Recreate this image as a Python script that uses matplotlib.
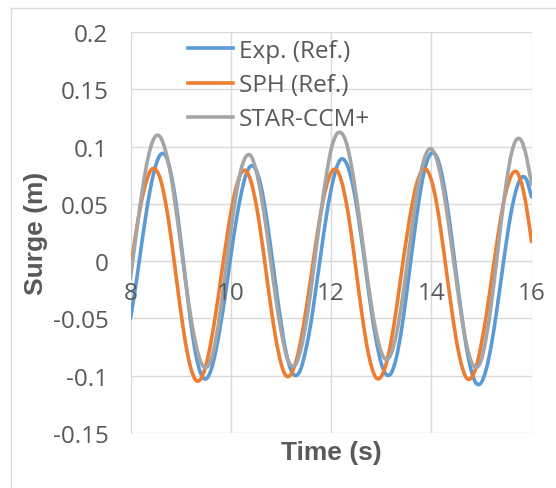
import matplotlib
matplotlib.use("Agg")
import matplotlib.pyplot as plt
from matplotlib.lines import Line2D
from matplotlib.path import Path
from matplotlib.patches import PathPatch
import numpy as np

# ---- data ----
time_s = [round(8.0 + 0.1 * i, 1) for i in range(81)]

exp_ref = [
    -0.050, -0.023, 0.008, 0.038, 0.064, 0.083, 0.093, 0.092, 0.078, 0.053,
    0.019, -0.017, -0.053, -0.081, -0.098, -0.103, -0.096, -0.079, -0.055, -0.027,
    0.004, 0.033, 0.057, 0.075, 0.083, 0.080, 0.066, 0.042, 0.011, -0.022,
    -0.053, -0.079, -0.095, -0.100, -0.094, -0.077, -0.054, -0.024, 0.007, 0.037,
    0.062, 0.080, 0.089, 0.086, 0.073, 0.051, 0.022, -0.010, -0.042, -0.069,
    -0.089, -0.099, -0.098, -0.085, -0.062, -0.031, 0.003, 0.036, 0.065, 0.085,
    0.094, 0.092, 0.078, 0.054, 0.023, -0.012, -0.045, -0.075, -0.096, -0.107,
    -0.106, -0.094, -0.073, -0.045, -0.014, 0.017, 0.044, 0.063, 0.073, 0.071,
    0.056,
]

sph_ref = [
    -0.007, 0.022, 0.048, 0.067, 0.079, 0.080, 0.071, 0.051, 0.023, -0.010,
    -0.043, -0.072, -0.093, -0.104, -0.103, -0.092, -0.072, -0.046, -0.016, 0.014,
    0.042, 0.063, 0.076, 0.079, 0.070, 0.051, 0.024, -0.008, -0.040, -0.068,
    -0.089, -0.100, -0.099, -0.088, -0.069, -0.043, -0.014, 0.016, 0.043, 0.064,
    0.077, 0.080, 0.071, 0.052, 0.025, -0.008, -0.041, -0.070, -0.091, -0.102,
    -0.101, -0.090, -0.070, -0.043, -0.012, 0.018, 0.045, 0.066, 0.078, 0.080,
    0.071, 0.052, 0.024, -0.008, -0.040, -0.069, -0.090, -0.102, -0.102, -0.092,
    -0.072, -0.047, -0.017, 0.013, 0.041, 0.062, 0.075, 0.078, 0.068, 0.047,
    0.017,
]

star_ccm = [
    -0.015, 0.019, 0.051, 0.079, 0.099, 0.109, 0.108, 0.096, 0.076, 0.047,
    0.015, -0.018, -0.048, -0.072, -0.088, -0.093, -0.087, -0.069, -0.041, -0.008,
    0.026, 0.056, 0.079, 0.091, 0.092, 0.080, 0.059, 0.031, -0.001, -0.033,
    -0.060, -0.081, -0.091, -0.090, -0.077, -0.055, -0.025, 0.009, 0.043, 0.073,
    0.097, 0.110, 0.112, 0.104, 0.085, 0.058, 0.027, -0.006, -0.037, -0.062,
    -0.079, -0.086, -0.081, -0.065, -0.040, -0.009, 0.024, 0.055, 0.079, 0.094,
    0.098, 0.090, 0.072, 0.046, 0.015, -0.017, -0.047, -0.072, -0.088, -0.093,
    -0.086, -0.066, -0.037, -0.001, 0.036, 0.069, 0.094, 0.106, 0.105, 0.091,
    0.067,
]

series_names = ["Exp. (Ref.)", "SPH (Ref.)", "STAR-CCM+"]
series_colors = ["#5B9BD5", "#ED7D31", "#A5A5A5"]

x_ticks = [8, 10, 12, 14, 16]
y_ticks = [-0.15, -0.1, -0.05, 0, 0.05, 0.1, 0.15, 0.2]
y_tick_labels = ["-0.15", "-0.1", "-0.05", "0", "0.05", "0.1", "0.15", "0.2"]


def smoothed_line_path(xs, ys):
    """Excel-style smoothed line: Catmull-Rom segments as cubic Beziers."""
    pts = np.column_stack([xs, ys]).astype(float)
    n = len(pts)
    verts = [pts[0]]
    codes = [Path.MOVETO]
    for i in range(n - 1):
        p0 = pts[i - 1] if i > 0 else pts[i]
        p1 = pts[i]
        p2 = pts[i + 1]
        p3 = pts[i + 2] if i + 2 < n else pts[i + 1]
        verts += [p1 + (p2 - p0) / 6.0, p2 - (p3 - p1) / 6.0, p2]
        codes += [Path.CURVE4] * 3
    return Path(verts, codes)


# ---- figure ----
fig = plt.figure(figsize=(5.56, 4.89), dpi=100)
fig.patch.set_facecolor("white")

# partial outer chart border (top and left)
border_c = "#D9D9D9"
fig.add_artist(Line2D([11 / 556, 1.0], [1 - 8.5 / 489, 1 - 8.5 / 489],
                      transform=fig.transFigure, color=border_c, lw=1.0))
fig.add_artist(Line2D([11 / 556, 11 / 556], [0.0, 1 - 8.5 / 489],
                      transform=fig.transFigure, color=border_c, lw=1.0))

ax_rect = [130.5 / 556, 1 - 433.8 / 489, 401 / 556, 400.8 / 489]
ax = fig.add_axes(ax_rect)

grid_c = "#D9D9D9"
ax.set_xlim(8, 16)
ax.set_ylim(-0.15, 0.2)
ax.set_xticks(x_ticks)
ax.set_yticks(y_ticks)
ax.set_yticklabels(y_tick_labels)
ax.grid(True, color=grid_c, lw=1.0, zorder=0)
ax.set_axisbelow(True)

for name in ["top", "right"]:
    ax.spines[name].set_visible(False)
ax.spines["left"].set_color(grid_c)
ax.spines["bottom"].set_color(grid_c)
ax.spines["bottom"].set_position(("data", 0))

tick_family = ["Open Sans", "DejaVu Sans"]
tick_size = 17.5
ax.tick_params(axis="both", length=0, colors="#595959")
ax.tick_params(axis="y", pad=16)
ax.tick_params(axis="x", labelbottom=False)
for lab in ax.get_yticklabels():
    lab.set_fontfamily(tick_family)
    lab.set_fontsize(tick_size)

handles = []
for vals, name, col in zip([exp_ref, sph_ref, star_ccm], series_names, series_colors):
    patch = PathPatch(smoothed_line_path(time_s, vals), facecolor="none",
                      edgecolor=col, lw=2.6, capstyle="round", joinstyle="round",
                      zorder=3)
    ax.add_patch(patch)
    handles.append(Line2D([], [], color=col, lw=2.6, label=name))

label_font = dict(family=["Liberation Sans", "DejaVu Sans"], size=19,
                  weight="bold", color="#595959")
ax.set_xlabel("Time (s)", **label_font)
ax.set_ylabel("Surge (m)", **label_font)
ax.xaxis.set_label_coords(0.5, -0.017)
ax.yaxis.set_label_coords(-0.205, 0.5)

leg = ax.legend(handles=handles, loc="upper left",
                bbox_to_anchor=((188 - 130.5) / 401, 0.983),
                frameon=False, borderpad=0, borderaxespad=0,
                handlelength=1.85, handletextpad=0.25, labelspacing=0.42,
                prop={"family": tick_family, "size": tick_size})
for t in leg.get_texts():
    t.set_color("#595959")

# overlay axes carrying the horizontal-axis tick labels on top of the series
ax_top = fig.add_axes(ax_rect, sharex=ax, sharey=ax, zorder=5)
ax_top.patch.set_visible(False)
for s in ax_top.spines.values():
    s.set_visible(False)
ax_top.spines["bottom"].set_position(("data", 0))
ax_top.set_xticks(x_ticks)
ax_top.set_xticklabels([str(v) for v in x_ticks])
ax_top.tick_params(axis="x", length=0, pad=14.5, colors="#595959")
ax_top.tick_params(axis="y", left=False, labelleft=False)
for lab in ax_top.get_xticklabels():
    lab.set_fontfamily(tick_family)
    lab.set_fontsize(tick_size)
ax_top.set_xlabel("")
ax_top.set_ylabel("")

fig.savefig("out.png", dpi=100, facecolor="white")
